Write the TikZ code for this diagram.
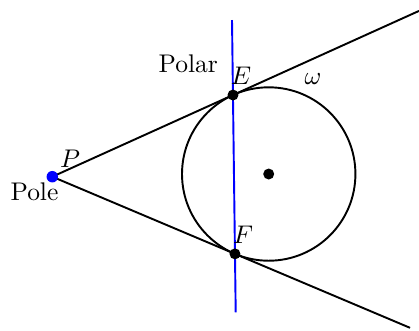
\documentclass[tikz,border=0pt]{standalone}
\begin{document}
\begin{tikzpicture}[x=0.392pt,y=-0.392pt,
  ln/.style={line width=0.75pt,black},
  polarln/.style={line width=0.75pt,blue},
  dot/.style={circle,fill=black,inner sep=0pt,minimum size=4.3pt},
  bdot/.style={circle,fill=blue,inner sep=0pt,minimum size=4.5pt},
  lbl/.style={inner sep=0pt}]
\useasboundingbox (0,0) rectangle (419,330);
\coordinate (P) at (52.3,176.7);
\coordinate (O) at (268.7,174);
\coordinate (E) at (232.98,95.01);
\coordinate (F) at (234.96,253.85);
\coordinate (U) at (419,10.9);
\coordinate (L) at (410,327.8);
\coordinate (T) at (232.0,20);
\coordinate (B) at (235.7,312.3);
\draw[ln] (O) circle (86.7);
\draw[ln] (P) -- (E) -- (U);
\draw[ln] (P) -- (F) -- (L);
\draw[polarln] (T) -- (B);
\node[dot] (e) at (E) {};
\node[dot] (f) at (F) {};
\node[dot] (o) at (O) {};
\node[bdot] (p) at (P) {};
\node[lbl] (lpolar) at (188.3,64) {Polar};
\node[lbl] (lE) at (241,76) {$E$};
\node[lbl] (lw) at (313,79) {$\omega$};
\node[lbl] (lP) at (70,159) {$P$};
\node[lbl] (lpole) at (34.5,192) {Pole};
\node[lbl] (lF) at (243,235) {$F$};
\end{tikzpicture}
\end{document}
